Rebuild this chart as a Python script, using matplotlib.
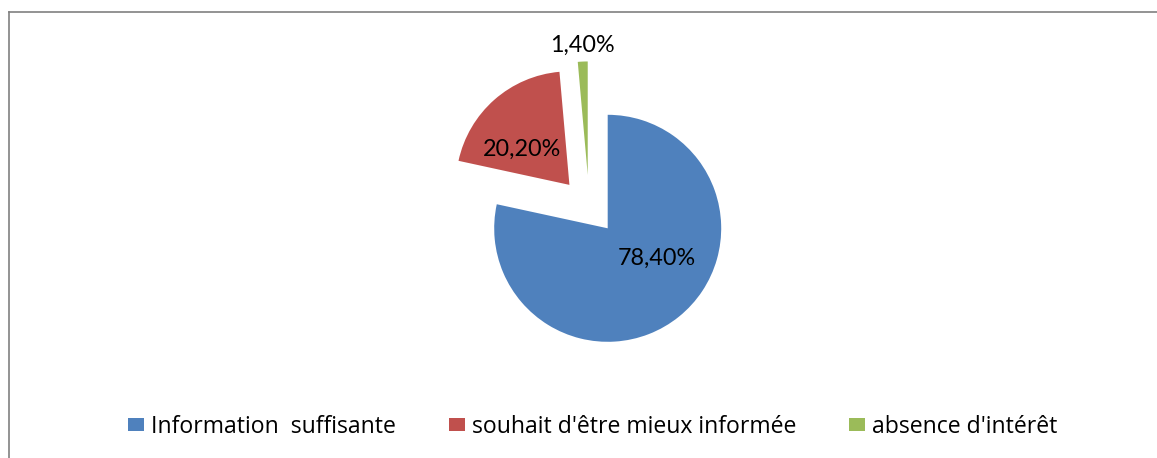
import matplotlib
matplotlib.use("Agg")
import matplotlib.pyplot as plt
from matplotlib.patches import Patch
from matplotlib.lines import Line2D

categories = ["Information  suffisante", "souhait d'être mieux informée", "absence d'intérêt"]
values = [78.40, 20.20, 1.40]
colors = ["#4F81BD", "#C0504D", "#9BBB59"]

plt.rcParams['font.family'] = ['Lato', 'DejaVu Sans']

W, H = 1157, 458
fig = plt.figure(figsize=(W / 100, H / 100), dpi=100)
ax = fig.add_axes([0, 0, 1, 1])
R = 113.5
cx, cy = 607.7, H - 228.3

wedges, _ = ax.pie(values, colors=colors, startangle=90, counterclock=False,
                   explode=[0, 0.51, 0.5], radius=1,
                   wedgeprops=dict(linewidth=0))
ax.set_xlim(-cx / R, (W - cx) / R)
ax.set_ylim(-cy / R, (H - cy) / R)
ax.set_aspect('auto')
ax.axis('off')
# green slice offset as in the reference
wedges[2].set_center((-0.176, 0.47))

label_pos = [(0.434, -0.262), (-0.751, 0.699), (-0.226, 1.612)]
for v, (lx, ly) in zip(values, label_pos):
    ax.text(lx, ly, f"{v:.2f}".replace('.', ',') + '%', ha='center', va='center',
            fontsize=16.8, color='black')

# border lines (top and left)
fig.add_artist(Line2D([9 / W, 1], [1 - 12 / H, 1 - 12 / H], transform=fig.transFigure,
                      color='#808080', linewidth=1.2))
fig.add_artist(Line2D([9 / W, 9 / W], [0, 1 - 12 / H], transform=fig.transFigure,
                      color='#808080', linewidth=1.2))

fs = 16.6
handles = [Patch(facecolor=c, edgecolor='none') for c in colors]
leg = fig.legend(handles, categories, loc='center', bbox_to_anchor=(593 / W, 1 - 427 / H),
                 ncol=3, frameon=False, prop={'family': ['Open Sans', 'DejaVu Sans'], 'size': fs},
                 handlelength=0.69, handleheight=0.49,
                 handletextpad=0.3, columnspacing=2.3, borderpad=0, borderaxespad=0)

fig.savefig("out.png", dpi=100)
